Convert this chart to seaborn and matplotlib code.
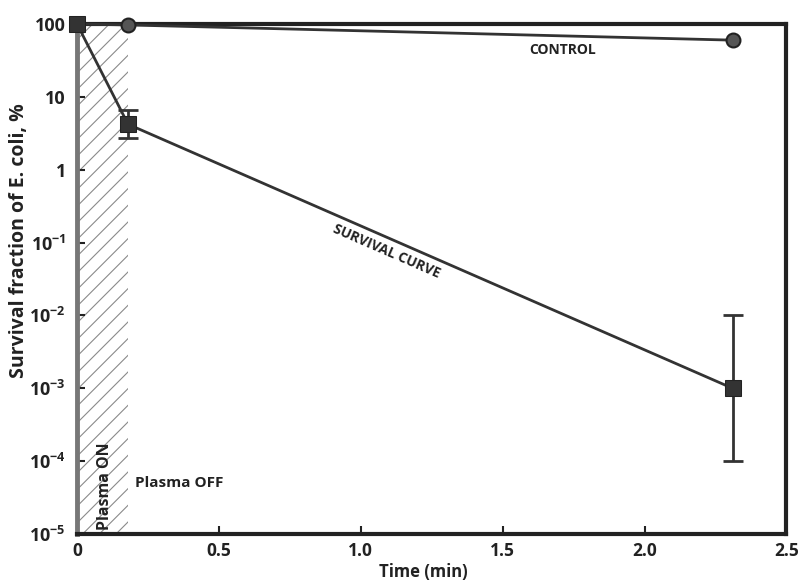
import numpy as np
import pandas as pd
import matplotlib
matplotlib.use("Agg")
import matplotlib.pyplot as plt
import seaborn as sns
from matplotlib.ticker import FixedLocator

# Survival data (percent) vs treatment time (min)
time_control = [0.0, 0.18, 2.31]
control_pct = [100.0, 97.0, 60.0]

time_survival = [0.0, 0.18, 2.31]
survival_pct = [100.0, 4.2, 1e-3]
survival_lo = [100.0, 2.7, 1e-4]
survival_hi = [100.0, 6.6, 1e-2]

plasma_on_end = 0.18

x_ticks = [0, 0.5, 1.0, 1.5, 2.0, 2.5]
x_tick_labels = ["0", "0.5", "1.0", "1.5", "2.0", "2.5"]
y_ticks = [1e-5, 1e-4, 1e-3, 1e-2, 1e-1, 1, 10, 100]
y_tick_labels = [r"$\mathbf{10^{-5}}$", r"$\mathbf{10^{-4}}$", r"$\mathbf{10^{-3}}$",
                 r"$\mathbf{10^{-2}}$", r"$\mathbf{10^{-1}}$", "1", "10", "100"]

sns.set_theme(style="white")
plt.rcParams["font.family"] = ["Open Sans", "DejaVu Sans"]
plt.rcParams["mathtext.fontset"] = "custom"
plt.rcParams["mathtext.bf"] = "Open Sans:bold"
plt.rcParams["mathtext.rm"] = "Open Sans:bold"
plt.rcParams["hatch.linewidth"] = 0.8
plt.rcParams["hatch.color"] = "#8a8a8a"

ink = "#333333"

fig = plt.figure(figsize=(7.98, 5.82), dpi=100)
ax = fig.add_axes([0.0965, 0.0825, 0.889, 0.8763])

# Plasma-on hatched interval
ax.axvspan(0, plasma_on_end, facecolor="none", edgecolor="#8a8a8a",
           hatch="//", linewidth=0, zorder=0)

df_c = pd.DataFrame({"t": time_control, "s": control_pct})
df_s = pd.DataFrame({"t": time_survival, "s": survival_pct})

sns.lineplot(data=df_c, x="t", y="s", ax=ax, color=ink, linewidth=2,
             marker="o", markersize=10, markeredgecolor="#222222",
             markerfacecolor="#555555", markeredgewidth=1.5, zorder=4,
             clip_on=False)
sns.lineplot(data=df_s, x="t", y="s", ax=ax, color=ink, linewidth=2,
             marker="s", markersize=11, markeredgecolor="#222222",
             markerfacecolor="#333333", zorder=5, clip_on=False)

s = np.array(survival_pct)
yerr = np.vstack([s - np.array(survival_lo), np.array(survival_hi) - s])
ax.errorbar(time_survival[1:], survival_pct[1:], yerr=yerr[:, 1:], fmt="none",
            ecolor=ink, elinewidth=2, capsize=7, capthick=2, zorder=3)

ax.set_yscale("log")
ax.set_xlim(0, 2.5)
ax.set_ylim(1e-5, 100)
ax.xaxis.set_major_locator(FixedLocator(x_ticks))
ax.set_xticklabels(x_tick_labels)
ax.yaxis.set_major_locator(FixedLocator(y_ticks))
ax.set_yticklabels(y_tick_labels)
ax.yaxis.set_minor_locator(FixedLocator([]))

for lab in ax.get_xticklabels():
    lab.set_fontweight("bold")
    lab.set_fontsize(12.5)
    lab.set_color("#222222")
for lab in ax.get_yticklabels():
    lab.set_fontweight("bold")
    lab.set_fontsize(13)
    lab.set_color("#222222")

ax.tick_params(axis="both", direction="in", length=6, width=1.5,
               color="#222222", left=True, bottom=True)
ax.tick_params(axis="y", pad=8)
ax.tick_params(axis="x", pad=6)

for side in ["top", "right", "bottom"]:
    ax.spines[side].set_color("#222222")
    ax.spines[side].set_linewidth(3)
ax.spines["left"].set_color("#777777")
ax.spines["left"].set_linewidth(3.5)

ax.set_xlabel("Time (min)", fontsize=12, fontweight="bold", color="#222222")
ax.xaxis.set_label_coords(0.488, -0.057)
ax.set_ylabel("Survival fraction of E. coli, %", fontsize=14, fontweight="bold",
              color="#222222")
ax.yaxis.set_label_coords(-0.068, 0.575)

ax.text(1.71, 55, "CONTROL", fontsize=10, fontweight="bold", color="#222222",
        ha="center", va="top")
ax.text(1.09, 0.075, "SURVIVAL CURVE", fontsize=10, fontweight="bold",
        color="#222222", ha="center", va="center", rotation=-23.5)
ax.text(0.1, 1.15e-5, "Plasma ON", fontsize=11.5, fontweight="bold", color="#222222",
        ha="center", va="bottom", rotation=90)
ax.text(0.205, 5e-5, "Plasma OFF", fontsize=11, fontweight="bold", color="#222222",
        ha="left", va="center")

fig.savefig("out.png", dpi=100)
